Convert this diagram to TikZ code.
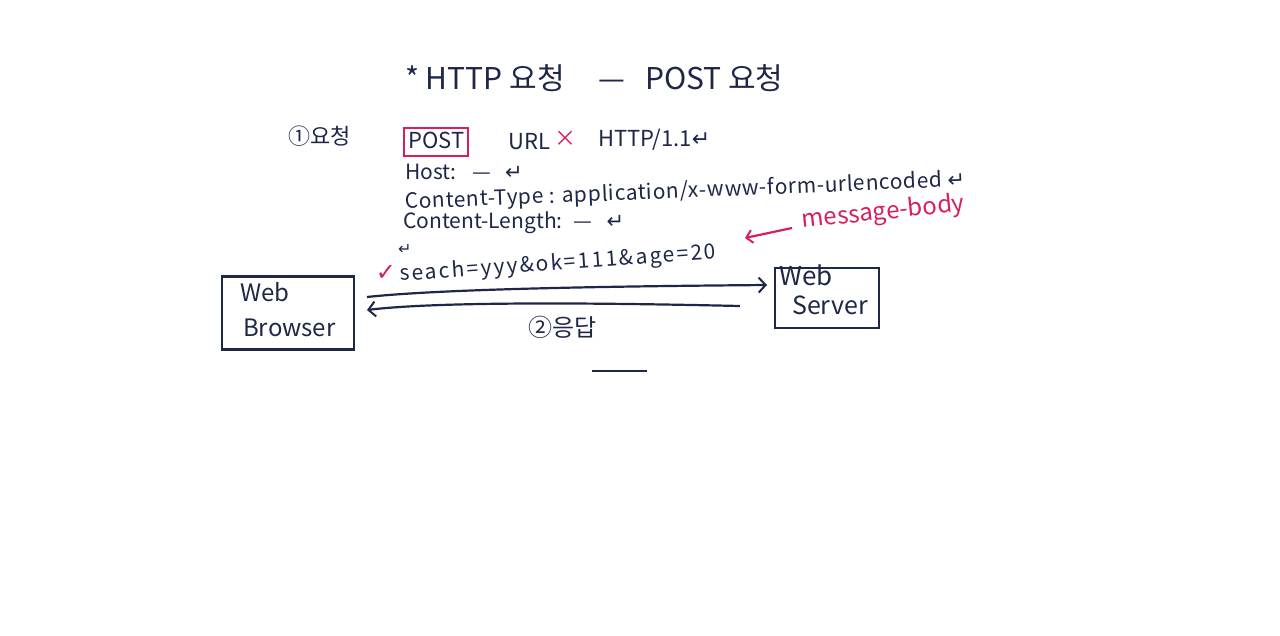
\documentclass[tikz,border=0pt]{standalone}
\usepackage{fontspec}
\setmainfont{Noto Sans CJK KR}
\newfontfamily\symfont{DejaVu Sans}
\usetikzlibrary{arrows.meta}
\definecolor{ink}{HTML}{1E2748}
\definecolor{hl}{HTML}{D81E5B}
\newcommand{\ret}{{\symfont ↵}}
\tikzset{
  txt/.style={text=ink, inner sep=0pt, anchor=west},
  big/.style={font=\fontsize{30}{34}\selectfont, text height=21pt, text depth=4pt},
  mid/.style={font=\fontsize{22}{26}\selectfont, text height=16pt, text depth=4pt},
  sml/.style={font=\fontsize{21}{24}\selectfont, text height=15pt, text depth=3pt},
  boxline/.style={draw=ink, line width=2.4pt},
  conn/.style={draw=ink, line width=2.2pt, -{Straight Barb[length=7pt, width=15pt, line width=2pt]}},
}
\begin{document}
\begin{tikzpicture}[x=1pt,y=-1pt]
\useasboundingbox[fill=white] (0,0) rectangle (1280,635);

% title
\node[txt, big] (title) at (405,81) {* HTTP 요청 \ \ \ \ — \ \ POST 요청};

% request line
\node[txt, mid] (req) at (288,138) {①요청};
\node[text=ink, mid, draw=hl, line width=2.2pt, inner xsep=4pt, inner ysep=4pt, anchor=west] (post) at (403,142) {POST};
\node[txt, mid] (url) at (508,143) {URL};
\node[text=hl, mid, inner sep=0pt, anchor=west] (x) at (554,140) {×};
\node[txt, mid] (http) at (598,140) {HTTP/1.1\ret};

% headers
\node[txt, sml] (host) at (405,173) {Host: \ \ — \ \ \ret};
\node[txt, sml, rotate=2.3, font={\fontsize{21}{24}\selectfont\addfontfeature{LetterSpace=3}}] (ctype) at (405,203) {Content-Type : application/x-www-form-urlencoded \ret};
\node[txt, sml] (clen) at (403,222) {Content-Length: \ — \ \ \ret};
\node[txt, font=\symfont\fontsize{16}{18}\selectfont] (blank) at (398,249) {↵};
\node[text=hl, inner sep=0pt, font=\symfont\fontsize{24}{26}\selectfont] (check) at (386,273) {✓};
\node[txt, sml, rotate=4, font={\fontsize{21}{24}\selectfont\addfontfeature{LetterSpace=10}}] (body) at (400,275) {seach=yyy\&ok=111\&age=20};

% message-body annotation
\node[text=hl, inner sep=0pt, anchor=west, font=\fontsize{24}{28}\selectfont, rotate=6, text height=17pt, text depth=5pt] (mb) at (802,222) {message-body};
\coordinate (mbs) at (792,228);
\draw[draw=hl, line width=2.2pt, -{Straight Barb[length=6pt, width=13pt, line width=2pt]}] (mbs) -- (745,238);

% boxes
\node[boxline, minimum width=132pt, minimum height=73pt] (browser) at (288,313) {};
\node[txt, font=\fontsize{24}{28}\selectfont, text height=17pt, text depth=4pt] (b1) at (240,295) {Web};
\node[txt, font=\fontsize{24}{28}\selectfont, text height=17pt, text depth=4pt] (b2) at (243,330) {Browser};

\node[boxline, minimum width=104pt, minimum height=60pt] (server) at (827,298) {};
\node[txt, font=\fontsize{26}{30}\selectfont, text height=18pt, text depth=4pt] (s1) at (779,278) {Web};
\node[txt, font=\fontsize{25}{30}\selectfont, text height=18pt, text depth=4pt] (s2) at (792,307) {Server};

% connectors
\coordinate (a1) at (367,297);
\coordinate (a2) at (767,285);
\draw[conn] (a1) .. controls (450,288) and (650,286) .. (a2);
\coordinate (b1s) at (740,306);
\coordinate (b1e) at (367,310);
\draw[conn] (b1s) .. controls (650,304) and (450,300) .. (b1e);

\node[txt, font=\fontsize{24}{28}\selectfont, text height=17pt, text depth=4pt] (resp) at (528,330) {②응답};

\coordinate (l1) at (592,371);
\coordinate (l2) at (647,371);
\draw[draw=ink, line width=2.2pt] (l1) -- (l2);
\end{tikzpicture}
\end{document}
